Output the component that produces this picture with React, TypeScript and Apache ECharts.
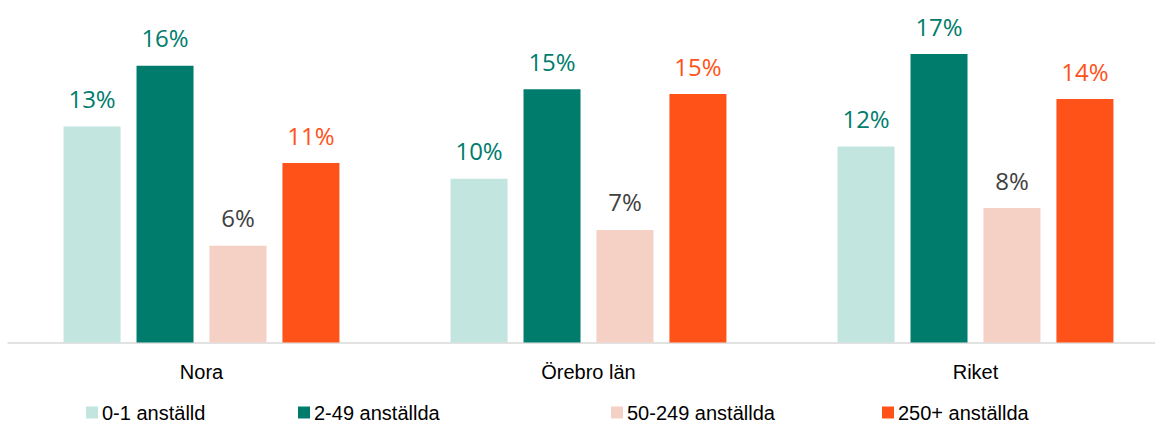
import React, { useEffect, useRef } from "react";
import * as echarts from "echarts";

const categories = ["Nora", "Örebro län", "Riket"];
const seriesNames = ["0-1 anställd", "2-49 anställda", "50-249 anställda", "250+ anställda"];
const values01 = [12.76, 9.67, 11.58];
const values249 = [16.35, 14.97, 17.04];
const values50249 = [5.71, 6.65, 7.94];
const values250 = [10.6, 14.68, 14.38];

const barColors = ["#C2E5E0", "#007C6C", "#F4D0C5", "#FF5219"];
const labelColors = ["#007C6C", "#007C6C", "#404040", "#FF5219"];
const legendLefts = [86, 298, 611, 882];

export default function App() {
  const ref = useRef<HTMLDivElement>(null);
  useEffect(() => {
    if (!ref.current) return;
    const chart = echarts.init(ref.current, undefined, { renderer: "svg" });
    const allValues = [values01, values249, values50249, values250];
    chart.setOption({
      animation: false,
      backgroundColor: "#ffffff",
      grid: { left: 8, right: 1, top: 4, bottom: 80.5 },
      xAxis: {
        type: "category",
        data: categories,
        axisLine: { show: true, lineStyle: { color: "#D9D9D9", width: 1.5 } },
        axisTick: { show: false },
        axisLabel: {
          margin: 19,
          color: "#000000",
          fontSize: 20,
          fontFamily: "Liberation Sans, Arial, sans-serif",
        },
      },
      yAxis: { type: "value", min: 0, max: 20, show: false },
      legend: seriesNames.map((name, i) => ({
        data: [name],
        left: legendLefts[i],
        top: 402.5,
        padding: 0,
        icon: "rect",
        itemWidth: 12,
        itemHeight: 12,
        itemGap: 0,
        textStyle: {
          color: "#000000",
          fontSize: 20,
          fontFamily: "Liberation Sans, Arial, sans-serif",
          padding: [0, 0, 0, -1],
        },
      })),
      series: seriesNames.map((name, i) => ({
        name,
        type: "bar",
        data: allValues[i],
        barWidth: 57,
        barGap: "28%",
        itemStyle: { color: barColors[i] },
        label: {
          show: true,
          position: "top",
          distance: 16,
          color: labelColors[i],
          fontSize: 24,
          fontFamily: "Open Sans, Noto Sans, sans-serif",
          formatter: (p: any) => Math.round(p.value) + "%",
        },
      })),
    });
    return () => chart.dispose();
  }, []);
  return (
    <div
      ref={ref}
      style={{ position: "fixed", left: 0, top: 0, width: 1170, height: 423 }}
    />
  );
}
